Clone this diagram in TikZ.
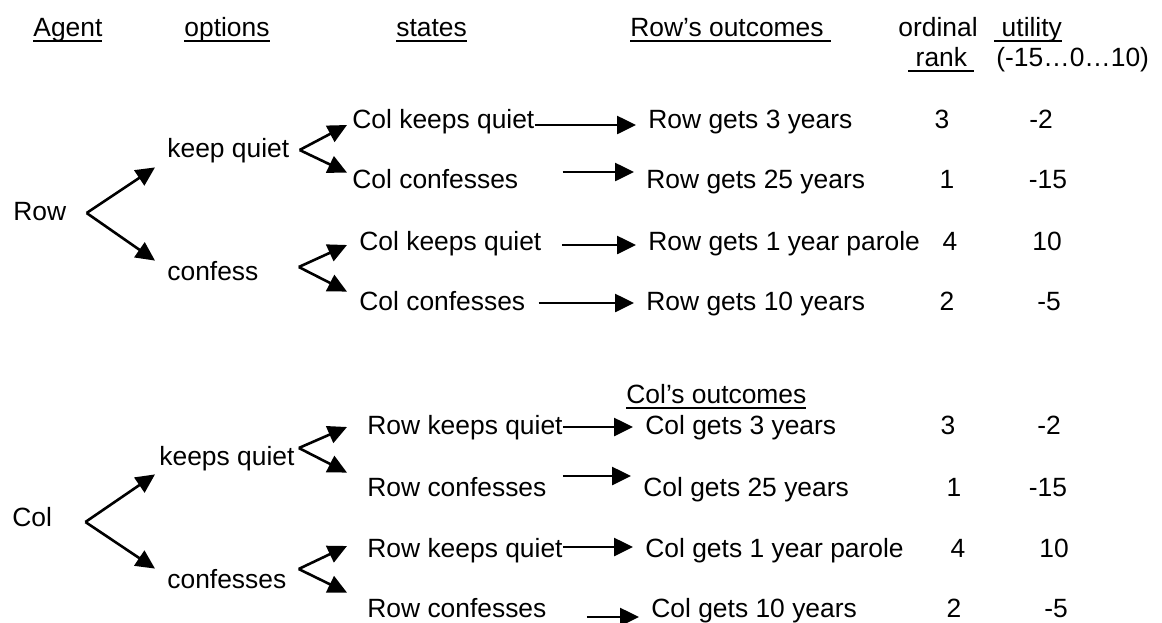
\documentclass[tikz,border=0pt]{standalone}
\usepackage{fontspec}
\setmainfont{Liberation Sans}
\usetikzlibrary{arrows.meta}
\newcommand{\ulbox}[1]{\setbox0=\hbox{#1}\rlap{\rule[-2.8pt]{\wd0}{0.9pt}}\box0}

\begin{document}
\begin{tikzpicture}[x=0.5pt,y=-0.5pt,
    txt/.style={anchor=base west, inner sep=0pt, text height=9.5pt, text depth=2.5pt, font=\fontsize{13.2}{15}\selectfont},
    num/.style={txt, anchor=base},
    arr/.style={-{Triangle[length=9.5pt,width=9pt]}, line width=1.3pt},
    harr/.style={arr, shorten >=6pt}]
\useasboundingbox (0,0) rectangle (1162,622);

% Column headings
\node[txt] (hagent) at (33,36) {\ulbox{Agent}};
\node[txt] (hoptions) at (184,36) {\ulbox{options}};
\node[txt] (hstates) at (396,36) {\ulbox{states}};
\node[txt] (hrowout) at (630,36) {\ulbox{Row’s outcomes\ }};
\node[txt] (hordinal) at (898,36) {ordinal};
\node[txt] (hutility) at (994,36) {\ulbox{\ utility}};
\node[txt] (hrank) at (908,66) {\ulbox{\ rank\ }};
\node[txt] (hrange) at (996,66) {(-15…0…10)};

% Row's tree
\node[txt] (row) at (13,220) {Row};
\node[txt] (kq) at (167,157) {keep quiet};
\node[txt] (cf) at (167,280) {confess};
\node[txt] (s1) at (352,128) {Col keeps quiet};
\node[txt] (s2) at (352,188) {Col confesses};
\node[txt] (s3) at (359,250) {Col keeps quiet};
\node[txt] (s4) at (359,310) {Col confesses};
\node[txt] (o1) at (648,128) {Row gets 3 years};
\node[txt] (o2) at (646,188) {Row gets 25 years};
\node[txt] (o3) at (648,250) {Row gets 1 year parole};
\node[txt] (o4) at (646,310) {Row gets 10 years};

% Col's tree
\node[txt] (col) at (12,526) {Col};
\node[txt] (kqs) at (159,465) {keeps quiet};
\node[txt] (cfs) at (167,588) {confesses};
\node[txt] (t1) at (367,434) {Row keeps quiet};
\node[txt] (t2) at (367,496) {Row confesses};
\node[txt] (t3) at (367,557) {Row keeps quiet};
\node[txt] (t4) at (367,617) {Row confesses};
\node[txt] (hcolout) at (626,403) {\ulbox{Col’s outcomes}};
\node[txt] (p1) at (645,434) {Col gets 3 years};
\node[txt] (p2) at (643,496) {Col gets 25 years};
\node[txt] (p3) at (645,557) {Col gets 1 year parole};
\node[txt] (p4) at (651,617) {Col gets 10 years};

% Ranks and utilities
\foreach \xr/\xu/\yb/\r/\u [count=\i] in {942/1041/128/3/-2, 947/1048/188/1/-15,
    950/1047/250/4/10, 947/1049/310/2/-5} {
    \node[num] (rankr\i) at (\xr,\yb) {\r};
    \node[num] (utilr\i) at (\xu,\yb) {\u};
}
\foreach \xr/\xu/\yb/\r/\u [count=\i] in {948/1049/434/3/-2, 954/1048/496/1/-15,
    958/1054/557/4/10, 954/1056/617/2/-5} {
    \node[num] (rankc\i) at (\xr,\yb) {\r};
    \node[num] (utilc\i) at (\xu,\yb) {\u};
}

% Fork points
\coordinate (rowv) at ([xshift=10pt]row.east);
\coordinate (kqv) at ([xshift=5pt]kq.east);
\coordinate (cfv) at ([xshift=20pt,yshift=3pt]cf.east);
\coordinate (colv) at ([xshift=16.5pt,yshift=-1.5pt]col.east);
\coordinate (kqsv) at ([xshift=2pt,yshift=5pt]kqs.east);
\coordinate (cfsv) at ([xshift=6pt,yshift=6pt]cfs.east);

% Row's forks
\draw[arr] (rowv) -- ([xshift=-6pt,yshift=-2.5pt]kq.south west);
\draw[arr] (rowv) -- ([xshift=-6pt]cf.north west);
\draw[arr] (kqv) -- ([xshift=-2.5pt,yshift=-2pt]s1.west);
\draw[arr] (kqv) -- ([xshift=-2.5pt,yshift=-2pt]s2.north west);
\draw[arr] (cfv) -- ([xshift=-6pt,yshift=-1pt]s3.west);
\draw[arr] (cfv) -- ([xshift=-6pt,yshift=-0.5pt]s4.north west);

% Col's forks
\draw[arr] (colv) -- ([xshift=-2pt,yshift=-2pt]kqs.south west);
\draw[arr] (colv) -- ([xshift=-6pt]cfs.north west);
\draw[arr] (kqsv) -- ([xshift=-10pt]t1.west);
\draw[arr] (kqsv) -- ([xshift=-10pt,yshift=2pt]t2.north west);
\draw[arr] (cfsv) -- ([xshift=-10pt,yshift=2pt]t3.west);
\draw[arr] (cfsv) -- ([xshift=-10pt,yshift=2.5pt]t4.north west);

% States to outcomes
\draw[harr] ([yshift=-2pt]s1.east) -- ([yshift=-2pt]o1.west);
\draw[harr, shorten <=22pt] ([yshift=4.5pt]s2.east) -- ([yshift=4.5pt]o2.west);
\draw[harr, shorten <=10pt] ([yshift=-1pt]s3.east) -- ([yshift=-1pt]o3.west);
\draw[harr, shorten <=6.5pt] (s4.east) -- (o4.west);
\draw[harr] (t1.east) -- (p1.west);
\draw[harr, shorten <=8pt] ([yshift=6.5pt]t2.east) -- ([yshift=6.5pt]p2.west);
\draw[harr] ([yshift=1.5pt]t3.east) -- ([yshift=1.5pt]p3.west);
\draw[harr, shorten <=20pt] ([yshift=-3.5pt]t4.east) -- ([yshift=-3.5pt]p4.west);

\end{tikzpicture}
\end{document}
